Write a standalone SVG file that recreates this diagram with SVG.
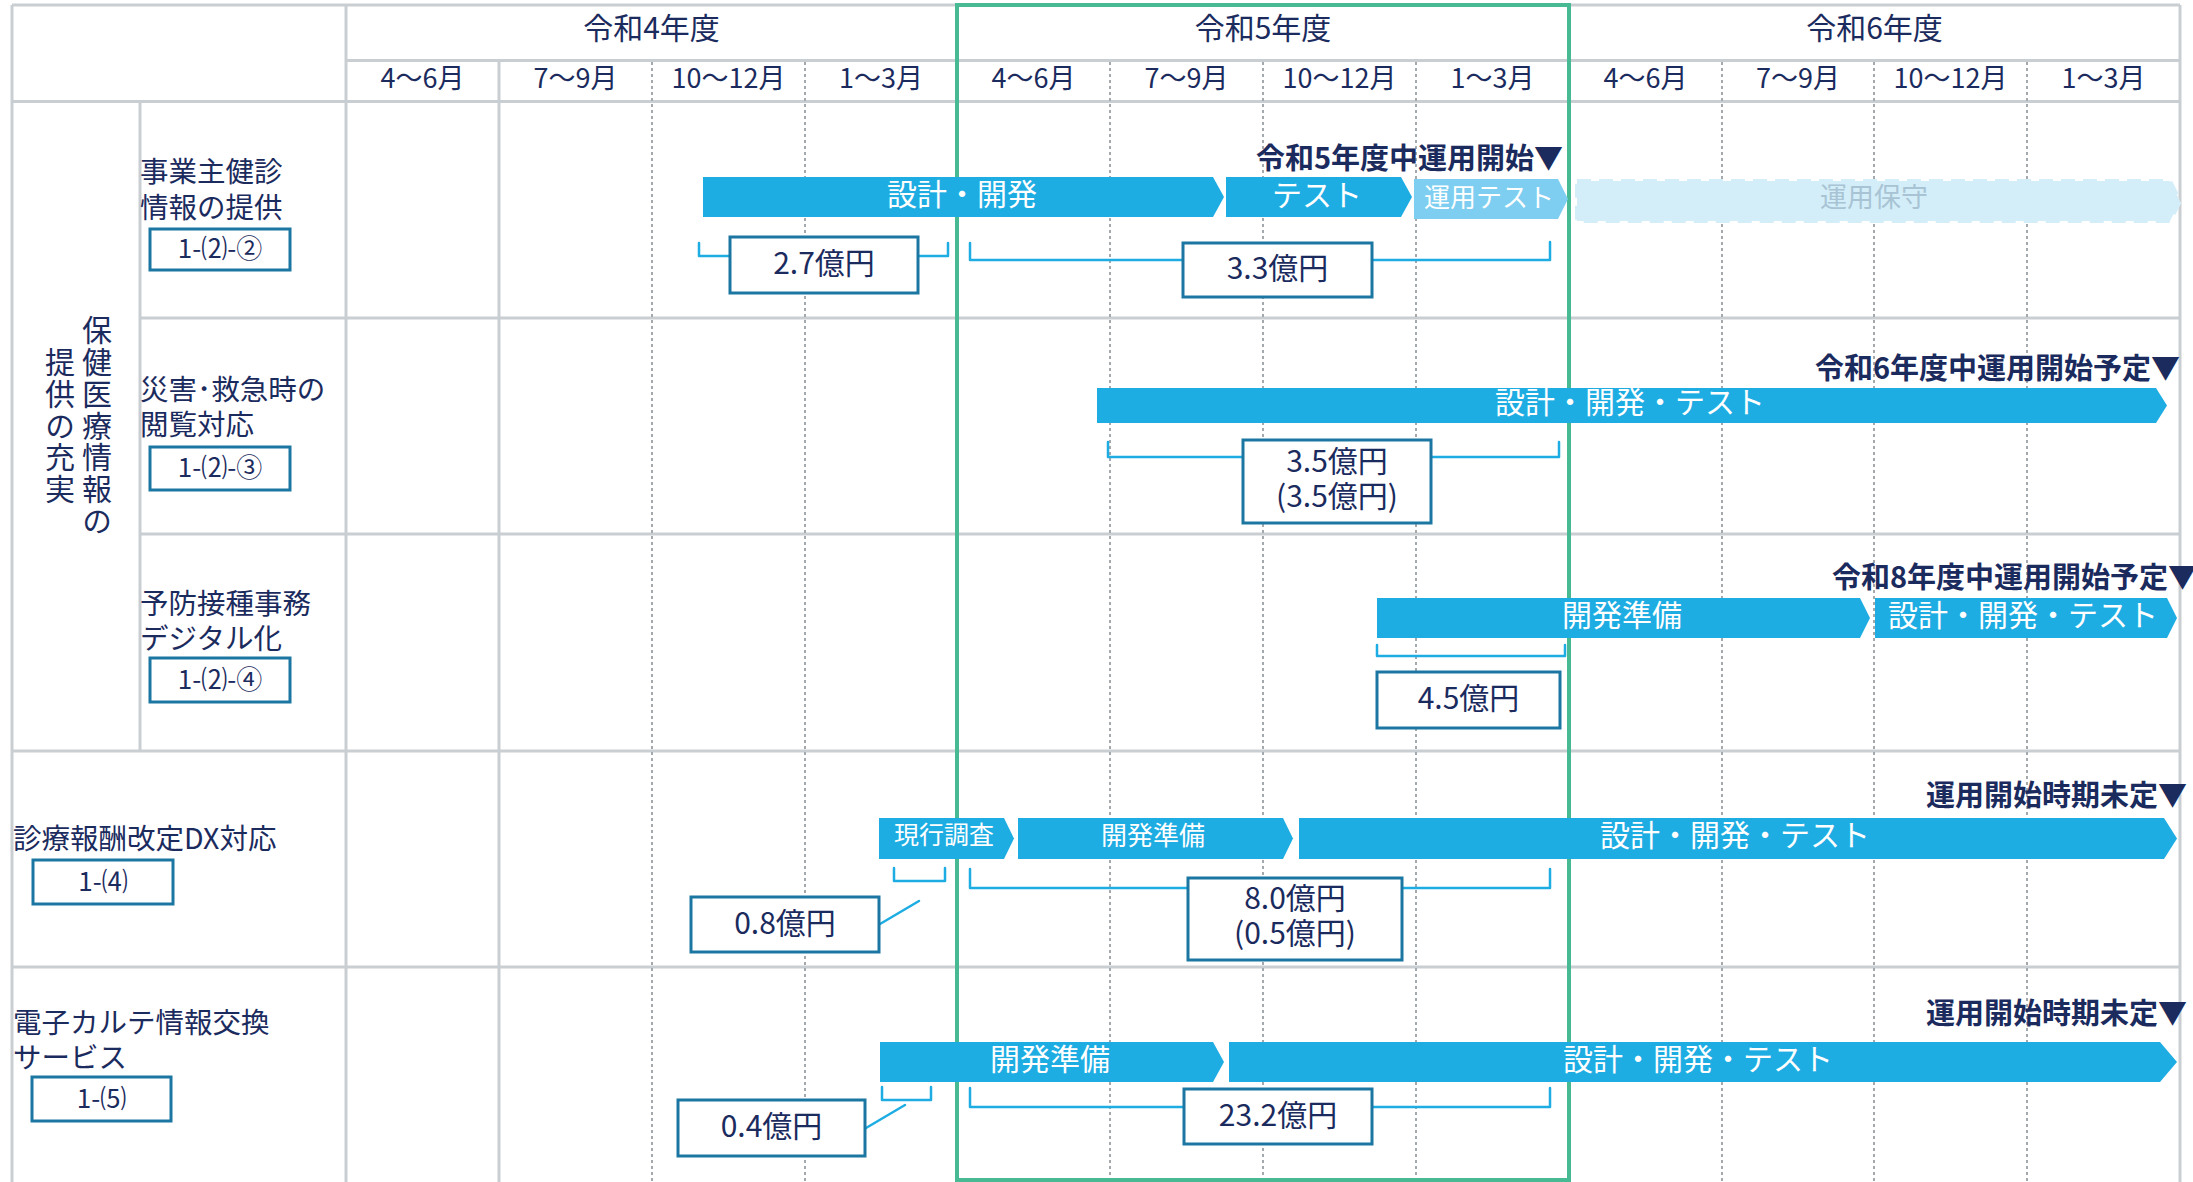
<svg xmlns="http://www.w3.org/2000/svg" width="2193" height="1182" viewBox="0 0 2193 1182">
<style>
.t{font-family:"Noto Sans CJK JP","Noto Sans",sans-serif;fill:#1B2B5E;dominant-baseline:central;transform:translateY(-3px)}
.grid{stroke:#C9CED2;stroke-width:3;fill:none}
.dash{stroke:#A4A9AE;stroke-width:2;stroke-dasharray:3 3;fill:none}
.bar{fill:#1EADE3}
.bar2{fill:#7DCEF0}
.bar3{fill:#D4EEF9;stroke:#D4EEF9;stroke-width:4;stroke-dasharray:14 8}
.bt{fill:#FFFFFF;text-anchor:middle;font-size:30px}
.box{fill:#FFFFFF;stroke:#1B76A2;stroke-width:3}
.br{fill:none;stroke:#1EADE3;stroke-width:2.5;stroke-linejoin:round;stroke-linecap:round}
.ms{font-weight:bold;text-anchor:end;font-size:29px}
.c{text-anchor:middle}
.lab{font-size:28.5px}
.id{font-size:26px;text-anchor:middle}
.cost{font-size:30px;text-anchor:middle}
.hd{font-size:30px;text-anchor:middle}
.q{font-size:27px;text-anchor:middle}
.vt{font-size:30px;writing-mode:vertical-rl;text-anchor:middle;letter-spacing:1.7px}
</style>

<g id="grid">
  <line class="grid" x1="12" y1="5" x2="2180" y2="5"/>
  <line class="grid" x1="346" y1="60.5" x2="2180" y2="60.5"/>
  <line class="grid" x1="12" y1="101.5" x2="2180" y2="101.5"/>
  <line class="grid" x1="140" y1="318" x2="2180" y2="318"/>
  <line class="grid" x1="140" y1="534" x2="2180" y2="534"/>
  <line class="grid" x1="12" y1="751" x2="2180" y2="751"/>
  <line class="grid" x1="12" y1="967" x2="2180" y2="967"/>
  <line class="grid" x1="12" y1="5" x2="12" y2="1182"/>
  <line class="grid" x1="140" y1="101.5" x2="140" y2="751"/>
  <line class="grid" x1="346" y1="5" x2="346" y2="1182"/>
  <line class="grid" x1="499" y1="60.5" x2="499" y2="1182"/>
  <line class="grid" x1="2180" y1="5" x2="2180" y2="1182"/>
  <line class="dash" x1="652" y1="62" x2="652" y2="1182"/>
  <line class="dash" x1="805" y1="62" x2="805" y2="1182"/>
  <line class="dash" x1="1110" y1="62" x2="1110" y2="1182"/>
  <line class="dash" x1="1263" y1="62" x2="1263" y2="1182"/>
  <line class="dash" x1="1416" y1="62" x2="1416" y2="1182"/>
  <line class="dash" x1="1722" y1="62" x2="1722" y2="1182"/>
  <line class="dash" x1="1874" y1="62" x2="1874" y2="1182"/>
  <line class="dash" x1="2027" y1="62" x2="2027" y2="1182"/>
  <rect x="957" y="5" width="612" height="1175" fill="none" stroke="#47BA93" stroke-width="4"/>
</g>

<g id="header">
  <text class="t hd" x="651.5" y="29">令和4年度</text>
  <text class="t hd" x="1263" y="29">令和5年度</text>
  <text class="t hd" x="1874.5" y="29">令和6年度</text>
  <text class="t q" x="422.5" y="79">4～6月</text>
  <text class="t q" x="575.5" y="79">7～9月</text>
  <text class="t q" x="728.5" y="79">10～12月</text>
  <text class="t q" x="881" y="79">1～3月</text>
  <text class="t q" x="1033.5" y="79">4～6月</text>
  <text class="t q" x="1186.5" y="79">7～9月</text>
  <text class="t q" x="1339.5" y="79">10～12月</text>
  <text class="t q" x="1492.5" y="79">1～3月</text>
  <text class="t q" x="1645.5" y="79">4～6月</text>
  <text class="t q" x="1798" y="79">7～9月</text>
  <text class="t q" x="1950.5" y="79">10～12月</text>
  <text class="t q" x="2103.5" y="79">1～3月</text>
</g>

<g id="group-label">
  <text class="t vt" x="97" y="429">保健医療情報の</text>
  <text class="t vt" x="60" y="429">提供の充実</text>
</g>

<g id="connectors">
  <path class="br" d="M699 243 V256 H948 V243"/>
  <path class="br" d="M970 243 V260 H1550 V242"/>
  <path class="br" d="M1108 442 V457 H1559 V442"/>
  <path class="br" d="M1377 645 V656 H1565 V645"/>
  <path class="br" d="M894 868 V881 H945 V868"/>
  <path class="br" d="M919 901 L880 924"/>
  <path class="br" d="M970 869 V888 H1550 V869"/>
  <path class="br" d="M882 1087 V1100 H931 V1087"/>
  <path class="br" d="M905 1105 L866 1128"/>
  <path class="br" d="M970 1088 V1107 H1550 V1088"/>
</g>

<g id="row1">
  <text class="t lab"><tspan x="140" y="172">事業主健診</tspan><tspan x="140" y="208">情報の提供</tspan></text>
  <g id="row1-id"><rect class="box" x="150" y="229" width="140" height="41"/><text class="t id" x="220" y="249">1-⑵-②</text></g>
  <g id="row1-dev"><path class="bar" d="M703 177 H1213 L1224 197 L1213 217 H703 Z"/><text class="t bt" x="962" y="195">設計・開発</text></g>
  <g id="row1-test"><path class="bar" d="M1226 177 H1401 L1412 197 L1401 217 H1226 Z"/><text class="t bt" x="1317" y="196">テスト</text></g>
  <g id="row1-optest"><path class="bar2" d="M1414 179 H1558 L1568 199 L1558 219 H1414 Z"/><text class="t bt" x="1489" y="198" style="font-size:26px">運用テスト</text></g>
  <g id="row1-maint"><path class="bar3" d="M1577 181 H2170 L2180 201 L2170 221 H1577 Z"/><text class="t c" x="1874" y="198" style="font-size:27px;fill:#A8C4D4">運用保守</text></g>
  <text class="t ms" x="1563" y="159">令和5年度中運用開始▼</text>
  <g id="row1-cost1"><rect class="box" x="730" y="237" width="188" height="56"/><text class="t cost" x="824" y="264">2.7億円</text></g>
  <g id="row1-cost2"><rect class="box" x="1183" y="243" width="189" height="54"/><text class="t cost" x="1277.5" y="269">3.3億円</text></g>
</g>

<g id="row2">
  <text class="t lab"><tspan x="140" y="390">災害･救急時の</tspan><tspan x="140" y="425">閲覧対応</tspan></text>
  <g id="row2-id"><rect class="box" x="150" y="447" width="140" height="43"/><text class="t id" x="220" y="468">1-⑵-③</text></g>
  <g id="row2-dev"><path class="bar" d="M1097 388 H2156 L2167 405.5 L2156 423 H1097 Z"/><text class="t bt" x="1630" y="403">設計・開発・テスト</text></g>
  <text class="t ms" x="2180" y="369">令和6年度中運用開始予定▼</text>
  <g id="row2-cost"><rect class="box" x="1243" y="440" width="188" height="83"/><text class="t cost"><tspan x="1337" y="462">3.5億円</tspan><tspan x="1337" y="497">(3.5億円)</tspan></text></g>
</g>

<g id="row3">
  <text class="t lab"><tspan x="140" y="604">予防接種事務</tspan><tspan x="140" y="639">デジタル化</tspan></text>
  <g id="row3-id"><rect class="box" x="150" y="658" width="140" height="44"/><text class="t id" x="220" y="680">1-⑵-④</text></g>
  <g id="row3-prep"><path class="bar" d="M1377 598 H1860 L1870 618 L1860 638 H1377 Z"/><text class="t bt" x="1622" y="616">開発準備</text></g>
  <g id="row3-dev"><path class="bar" d="M1875 598 H2167 L2177 618 L2167 638 H1875 Z"/><text class="t bt" x="2023" y="616">設計・開発・テスト</text></g>
  <text class="t ms" x="2197" y="578">令和8年度中運用開始予定▼</text>
  <g id="row3-cost"><rect class="box" x="1377" y="672" width="183" height="56"/><text class="t cost" x="1468.5" y="699">4.5億円</text></g>
</g>

<g id="row4">
  <text class="t lab" x="13" y="839">診療報酬改定DX対応</text>
  <g id="row4-id"><rect class="box" x="33" y="860" width="140" height="44"/><text class="t id" x="103" y="882">1-⑷</text></g>
  <g id="row4-survey"><path class="bar" d="M879 818 H1004 L1014 838.5 L1004 859 H879 Z"/><text class="t bt" x="944" y="836" style="font-size:25px">現行調査</text></g>
  <g id="row4-prep"><path class="bar" d="M1018 818 H1283 L1293 838.5 L1283 859 H1018 Z"/><text class="t bt" x="1153" y="836" style="font-size:26px">開発準備</text></g>
  <g id="row4-dev"><path class="bar" d="M1299 818 H2164 L2177 838.5 L2164 859 H1299 Z"/><text class="t bt" x="1735" y="836">設計・開発・テスト</text></g>
  <text class="t ms" x="2187" y="796">運用開始時期未定▼</text>
  <g id="row4-cost1"><rect class="box" x="691" y="897" width="188" height="55"/><text class="t cost" x="785" y="924">0.8億円</text></g>
  <g id="row4-cost2"><rect class="box" x="1188" y="878" width="214" height="82"/><text class="t cost"><tspan x="1295" y="899">8.0億円</tspan><tspan x="1295" y="934">(0.5億円)</tspan></text></g>
</g>

<g id="row5">
  <text class="t lab"><tspan x="13" y="1023">電子カルテ情報交換</tspan><tspan x="13" y="1058">サービス</tspan></text>
  <g id="row5-id"><rect class="box" x="32" y="1077" width="139" height="44"/><text class="t id" x="101.5" y="1099">1-⑸</text></g>
  <g id="row5-prep"><path class="bar" d="M880 1042 H1213 L1224 1062 L1213 1082 H880 Z"/><text class="t bt" x="1050" y="1060">開発準備</text></g>
  <g id="row5-dev"><path class="bar" d="M1229 1042 H2160 L2177 1062 L2160 1082 H1229 Z"/><text class="t bt" x="1698" y="1060">設計・開発・テスト</text></g>
  <text class="t ms" x="2187" y="1014">運用開始時期未定▼</text>
  <g id="row5-cost1"><rect class="box" x="678" y="1100" width="187" height="56"/><text class="t cost" x="771.5" y="1127">0.4億円</text></g>
  <g id="row5-cost2"><rect class="box" x="1184" y="1089" width="188" height="55"/><text class="t cost" x="1278" y="1116">23.2億円</text></g>
</g>
</svg>
